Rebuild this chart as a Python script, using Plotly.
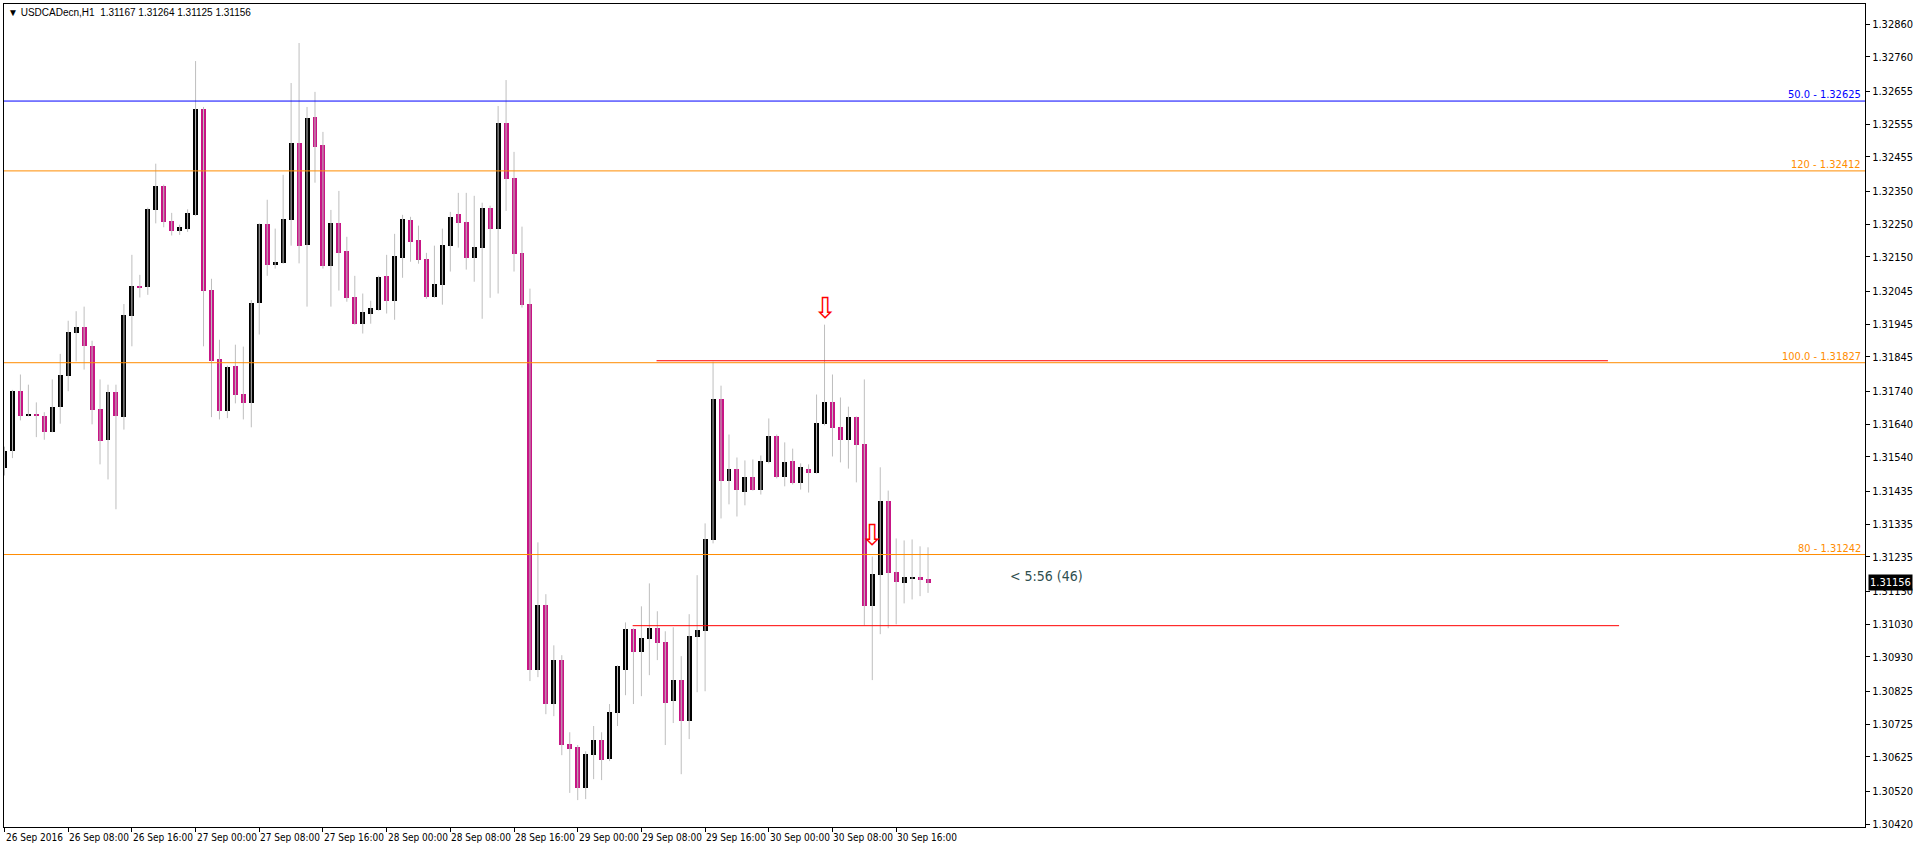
import plotly.graph_objects as go

# ---------------- data (USDCADecn, H1, hourly bars from 26 Sep 2016 00:00) ----------------
opens = [1.31507,1.31557,1.31740,1.31666,1.31672,1.31666,1.31617,1.31691,1.31788,1.31917,
         1.31937,1.31879,1.31686,1.31590,1.31739,1.31661,1.31968,1.32062,1.32057,1.32293,
         1.32367,1.32260,1.32229,1.32236,1.32278,1.32601,1.32050,1.31837,1.31681,1.31818,
         1.31733,1.31703,1.32009,1.32249,1.32126,1.32132,1.32263,1.32497,1.32187,1.32577,
         1.32491,1.32123,1.32254,1.32169,1.32028,1.31946,1.31977,1.31989,1.32092,1.32016,
         1.32147,1.32263,1.32202,1.32144,1.32028,1.32065,1.32184,1.32281,1.32257,1.32147,
         1.32178,1.32299,1.32236,1.32558,1.32391,1.32162,1.32007,1.30889,1.31087,1.30786,
         1.30920,1.30664,1.30655,1.30530,1.30630,1.30676,1.30618,1.30758,1.30889,1.31014,
         1.30944,1.30984,1.31017,1.30974,1.30795,1.30859,1.30734,1.30990,1.31008,1.31285,
         1.31715,1.31465,1.31504,1.31434,1.31477,1.31440,1.31523,1.31605,1.31477,1.31526,
         1.31459,1.31504,1.31492,1.31639,1.31706,1.31632,1.31590,1.31660,1.31578,1.31084,
         1.31179,1.31404,1.31188,1.31154,1.31169,1.31172,1.31167]
highs = [1.31571,1.31744,1.31791,1.31760,1.31706,1.31676,1.31776,1.31854,1.31955,1.31984,
         1.31998,1.31894,1.31776,1.31760,1.31760,1.32006,1.32156,1.32095,1.32300,1.32434,
         1.32370,1.32284,1.32248,1.32295,1.32747,1.32607,1.32083,1.31897,1.31818,1.31882,
         1.31876,1.32018,1.32252,1.32324,1.32236,1.32400,1.32680,1.32802,1.32607,1.32653,
         1.32531,1.32293,1.32351,1.32211,1.32092,1.32038,1.32016,1.32092,1.32156,1.32220,
         1.32278,1.32272,1.32245,1.32162,1.32184,1.32236,1.32287,1.32345,1.32345,1.32336,
         1.32315,1.32306,1.32610,1.32689,1.32470,1.32242,1.32053,1.31279,1.31121,1.30965,
         1.30935,1.30700,1.30661,1.30642,1.30719,1.30700,1.30786,1.30904,1.31035,1.31017,
         1.31084,1.31154,1.31069,1.31008,1.31020,1.30932,1.31060,1.31179,1.31337,1.31830,
         1.31757,1.31608,1.31538,1.31529,1.31532,1.31544,1.31657,1.31608,1.31584,1.31565,
         1.31520,1.31517,1.31730,1.31943,1.31791,1.31721,1.31693,1.31663,1.31776,1.31236,
         1.31508,1.31437,1.31291,1.31285,1.31288,1.31267,1.31264]
lows = [1.31483,1.31536,1.31651,1.31663,1.31600,1.31592,1.31615,1.31641,1.31740,1.31831,
        1.31806,1.31639,1.31517,1.31471,1.31380,1.31623,1.31877,1.32026,1.32034,1.32252,
        1.32240,1.32215,1.32217,1.32226,1.32275,1.31877,1.31661,1.31654,1.31658,1.31703,
        1.31654,1.31630,1.31913,1.32092,1.32114,1.32129,1.32184,1.32130,1.31998,1.32376,
        1.32114,1.31998,1.32047,1.32013,1.31943,1.31916,1.31946,1.31986,1.31977,1.31958,
        1.32086,1.32135,1.32129,1.32022,1.32025,1.32004,1.32105,1.32178,1.32111,1.32074,
        1.31961,1.32025,1.32038,1.32290,1.32105,1.31995,1.30856,1.30868,1.30755,1.30749,
        1.30630,1.30515,1.30493,1.30496,1.30557,1.30554,1.30612,1.30719,1.30813,1.30786,
        1.30810,1.30874,1.30920,1.30661,1.30728,1.30572,1.30679,1.30822,1.30825,1.31276,
        1.31352,1.31395,1.31358,1.31392,1.31437,1.31425,1.31520,1.31474,1.31450,1.31456,
        1.31440,1.31431,1.31489,1.31636,1.31541,1.31523,1.31504,1.31462,1.31026,1.30859,
        1.30999,1.31017,1.31029,1.31093,1.31105,1.31115,1.31125]
closes = [1.31559,1.31742,1.31666,1.31671,1.31663,1.31615,1.31693,1.31791,1.31922,1.31937,
          1.31877,1.31684,1.31587,1.31739,1.31664,1.31974,1.32062,1.32056,1.32296,1.32367,
          1.32257,1.32229,1.32242,1.32284,1.32601,1.32045,1.31833,1.31681,1.31815,1.31730,
          1.31703,1.32009,1.32249,1.32126,1.32135,1.32266,1.32497,1.32184,1.32574,1.32485,
          1.32123,1.32254,1.32162,1.32025,1.31946,1.31983,1.31995,1.32089,1.32016,1.32153,
          1.32266,1.32196,1.32141,1.32028,1.32068,1.32187,1.32272,1.32254,1.32147,1.32181,
          1.32299,1.32236,1.32558,1.32388,1.32159,1.32004,1.30889,1.31087,1.30786,1.30920,
          1.30661,1.30649,1.30530,1.30633,1.30676,1.30615,1.30761,1.30901,1.31014,1.30944,
          1.30987,1.31017,1.30971,1.30789,1.30859,1.30734,1.30993,1.31011,1.31288,1.31715,
          1.31465,1.31504,1.31440,1.31477,1.31440,1.31526,1.31605,1.31477,1.31523,1.31459,
          1.31508,1.31492,1.31642,1.31706,1.31629,1.31590,1.31660,1.31575,1.31084,1.31182,
          1.31404,1.31185,1.31157,1.31172,1.31172,1.31166,1.31156]

time_ticks = [0, 8, 16, 24, 32, 40, 48, 56, 64, 72, 80, 88, 96, 104, 112]
time_labels = ["26 Sep 2016", "26 Sep 08:00", "26 Sep 16:00", "27 Sep 00:00", "27 Sep 08:00",
               "27 Sep 16:00", "28 Sep 00:00", "28 Sep 08:00", "28 Sep 16:00", "29 Sep 00:00",
               "29 Sep 08:00", "29 Sep 16:00", "30 Sep 00:00", "30 Sep 08:00", "30 Sep 16:00"]

price_ticks = [1.30420, 1.30520, 1.30625, 1.30725, 1.30825, 1.30930, 1.31030, 1.31130, 1.31235,
               1.31335, 1.31435, 1.31540, 1.31640, 1.31740, 1.31845, 1.31945, 1.32045, 1.32150,
               1.32250, 1.32350, 1.32455, 1.32555, 1.32655, 1.32760, 1.32860]

# full-width levels
level_prices = [1.32625, 1.32412, 1.31827, 1.31242]
level_names = ["50.0 - 1.32625", "120 - 1.32412", "100.0 - 1.31827", "80 - 1.31242"]
level_colors = ["#0000FF", "#FF8C00", "#FF8C00", "#FF8C00"]

# red trend segments (bar index start/end, price)
seg_start = [81.9, 78.9]
seg_end = [201.4, 202.8]
seg_price = [1.31833, 1.31025]

# signal arrows (bar index, price at arrow tip)
arrow_bars = [103, 109]
arrow_prices = [1.31955, 1.31261]

last_price = 1.31156
title_text = "▼ USDCADecn,H1  1.31167 1.31264 1.31125 1.31156"
timer_text = "< 5:56 (46)"
timer_bar = 126
timer_price = 1.31176

y_range = [1.30411, 1.32921]
x_range = [-0.0625, 233.69]

# ---------------- figure ----------------
bars = list(range(len(opens)))
BULL = "#000000"
BEAR = "#C71585"
WICK = "#BEBEBE"
NARROW = "Liberation Sans Narrow, Arial Narrow, DejaVu Sans Condensed, sans-serif"

fig = go.Figure()

wx, wy = [], []
for i in bars:
    wx += [i, i, None]
    wy += [lows[i], highs[i], None]
fig.add_trace(go.Scatter(x=wx, y=wy, mode="lines", line=dict(color=WICK, width=1),
                         hoverinfo="skip", showlegend=False))

min_h = 0.00003
for is_bull, col in [(True, BULL), (False, BEAR)]:
    xs, bs, hs = [], [], []
    for i in bars:
        if (closes[i] >= opens[i]) == is_bull:
            xs.append(i)
            bs.append(min(opens[i], closes[i]))
            hs.append(max(abs(closes[i] - opens[i]), min_h))
    fig.add_trace(go.Bar(x=xs, y=hs, base=bs, width=0.625, marker=dict(color=col, line=dict(width=0)),
                         showlegend=False, hoverinfo="skip"))

for p, name, col in zip(level_prices, level_names, level_colors):
    fig.add_hline(y=p, line=dict(color=col, width=1))
    fig.add_annotation(xref="paper", x=1, y=p, yref="y", text=name, showarrow=False,
                       xanchor="right", yanchor="bottom", xshift=-2, yshift=-2,
                       font=dict(family=NARROW, size=11, color=col))

for s, e, p in zip(seg_start, seg_end, seg_price):
    fig.add_trace(go.Scatter(x=[s, e], y=[p, p], mode="lines", line=dict(color="#FF0000", width=1),
                             hoverinfo="skip", showlegend=False))

for b, p in zip(arrow_bars, arrow_prices):
    fig.add_annotation(x=b, y=p, text="⇩", showarrow=False, yanchor="bottom", yshift=-6,
                       font=dict(family="DejaVu Sans", size=29, color="#FF0000"))

for t, lab in zip(time_ticks, time_labels):
    fig.add_annotation(x=t, xref="x", y=0, yref="paper", text=lab, showarrow=False,
                       xanchor="left", yanchor="top", yshift=-3, xshift=-1,
                       font=dict(family=NARROW, size=10, color="#000000"))

fig.add_annotation(xref="paper", x=1, y=last_price, yref="y", text=f"{last_price:.5f}",
                   showarrow=False, xanchor="left", xshift=3, bgcolor="#000000", borderpad=1,
                   font=dict(family=NARROW, size=11, color="#FFFFFF"))

fig.add_annotation(x=timer_bar, y=timer_price, text=timer_text, showarrow=False, xanchor="left",
                   font=dict(family=NARROW, size=14, color="#2F4F4F"))

fig.add_annotation(xref="paper", yref="paper", x=0, y=1, text=title_text, showarrow=False,
                   xanchor="left", yanchor="top", xshift=2, yshift=-1,
                   font=dict(family="Liberation Sans, Arial, sans-serif", size=10, color="#000000"))

fig.update_layout(
    width=1916, height=845, autosize=False,
    margin=dict(l=3, r=43, t=3, b=18),
    plot_bgcolor="#FFFFFF", paper_bgcolor="#FFFFFF",
    barmode="overlay", bargap=0, showlegend=False,
    xaxis=dict(range=x_range, tickvals=time_ticks, showticklabels=False, ticks="outside",
               ticklen=4, tickcolor="#000000", showgrid=False, zeroline=False,
               showline=True, linecolor="#000000", linewidth=1, mirror=True, fixedrange=True),
    yaxis=dict(range=y_range, side="right", tickvals=price_ticks,
               ticktext=[f"{v:.5f}" for v in price_ticks], ticks="outside", ticklen=4,
               tickcolor="#000000", showgrid=False, zeroline=False, showline=True,
               linecolor="#000000", linewidth=1, mirror=True,
               tickfont=dict(family=NARROW, size=11, color="#000000"), fixedrange=True),
)

fig.write_html("out.html", config={"displayModeBar": False},
               post_script="document.body.style.margin='0';document.body.style.overflow='hidden';")
